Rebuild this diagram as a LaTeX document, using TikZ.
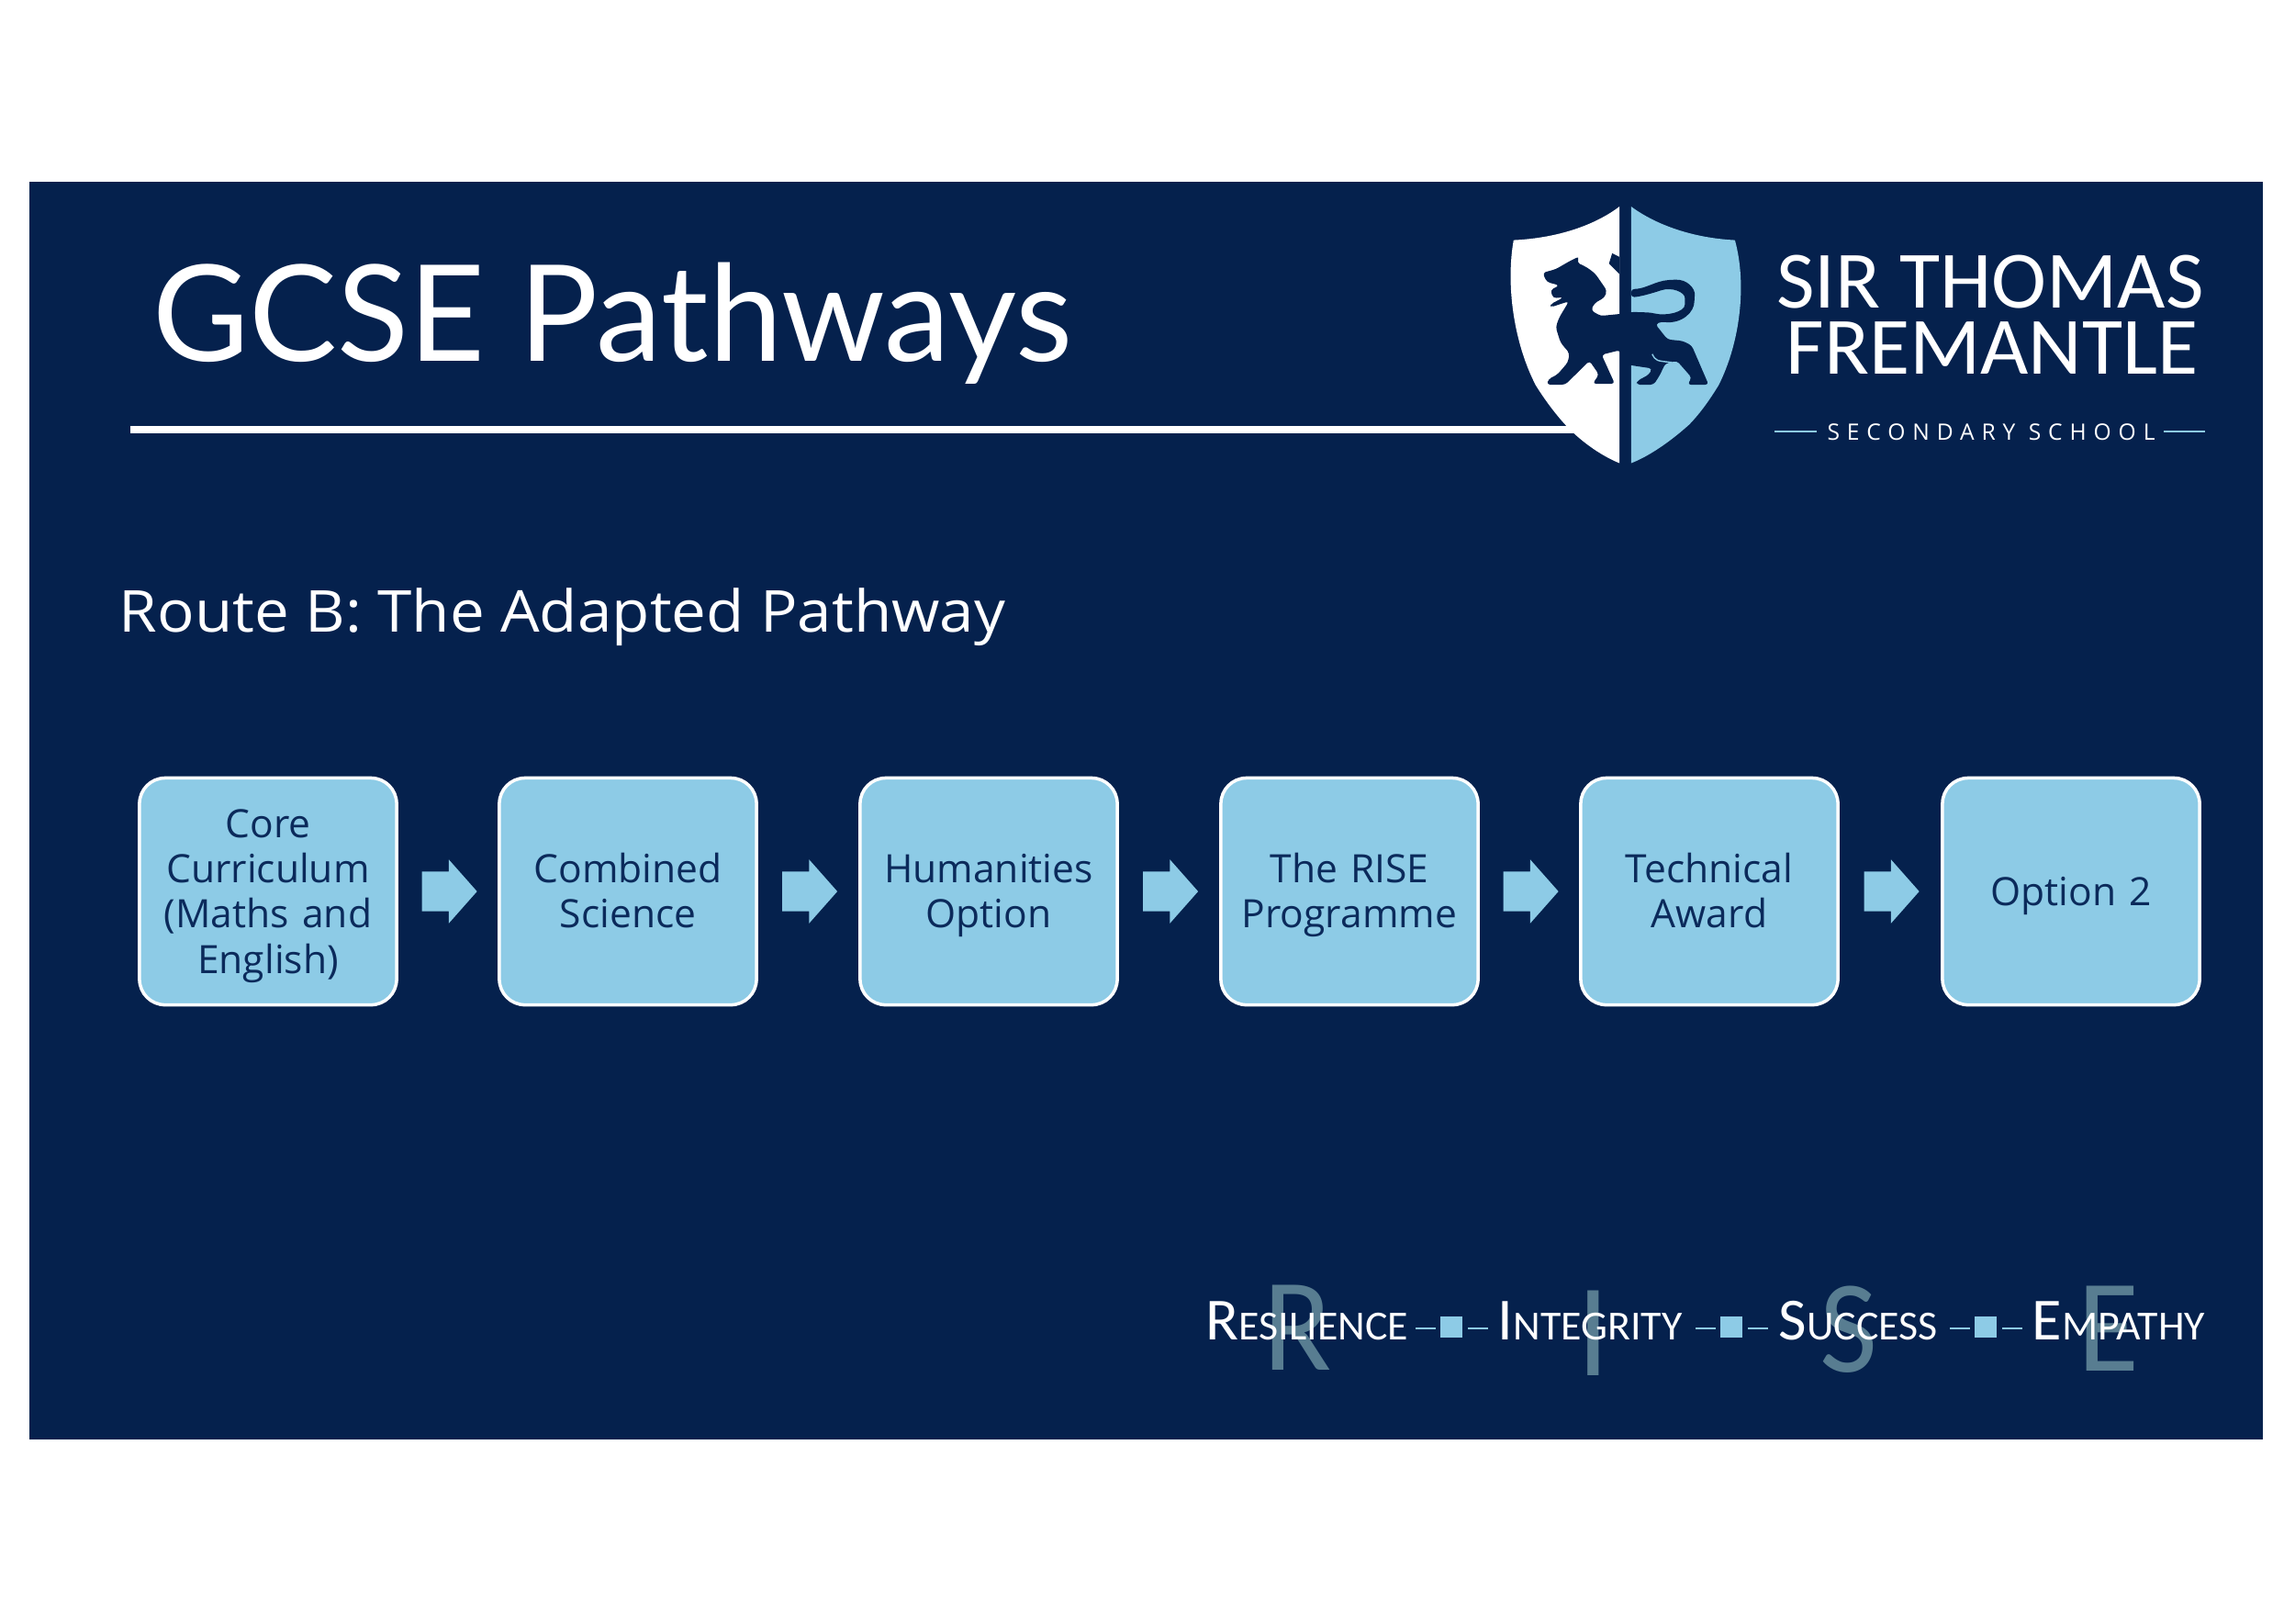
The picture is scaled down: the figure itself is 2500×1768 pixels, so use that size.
\documentclass[tikz,border=0pt]{standalone}
\usepackage{xcolor}
\usepackage{fontspec}
\usetikzlibrary{shapes.arrows,calc}
\setmainfont{Open Sans}
\newfontfamily\headfont[FakeStretch=0.985]{Lato}
\newfontfamily\routefont[FakeStretch=1.07]{Open Sans}
\newfontfamily\crestfont[FakeStretch=1.02]{Carlito}
\newfontfamily\risefont[FakeStretch=0.95]{Carlito}
\newfontfamily\subfont[LetterSpace=32]{Open Sans}
\definecolor{bgNavy}{HTML}{05214D}
\definecolor{skyLight}{HTML}{8DCBE6}
\definecolor{inkNavy}{HTML}{0B2A5B}
\definecolor{riseGray}{HTML}{587D91}

\begin{document}
\begin{tikzpicture}[x=0.01cm,y=-0.01cm]

            \tikzset{
                stepbox/.style={
                    rectangle,
                    rounded corners=2.8mm,
                    draw=white,
                    fill=skyLight,
                    line width=1pt,
                    minimum width=2.8cm,
                    minimum height=2.47cm,
                    inner sep=0pt,
                    text width=2.6cm,
                    align=center,
                    text=inkNavy,
                    font=\fontsize{12.1}{14}\selectfont,
                    execute at begin node={\rule[-3pt]{0pt}{14.6pt}},
                    execute at end node={\rule[-3pt]{0pt}{3pt}}
                },
                steparrow/.style={
                    single arrow,
                    fill=skyLight,
                    minimum width=0.68cm,
                    minimum height=0.6cm,
                    single arrow head extend=0.13cm,
                    single arrow tip angle=97,
                    inner xsep=0pt,
                    inner ysep=0.21cm,
                    xshift=-0.08cm
                },
                mottotext/.style={text=white, anchor=base west, inner sep=0pt},
                riseletter/.style={text=riseGray, anchor=base, inner sep=0pt,
                    font=\risefont\fontsize{41}{41}\selectfont},
                mottodash/.style={draw=skyLight, line width=0.7pt}
            }

            \newcommand{\StepBox}[3]{%
                \node[stepbox] (#1) at (#2,971) {#3};
            }
            \newcommand{\StepArrow}[2]{%
                \node[steparrow] (#1#2) at ($(#1)!0.5!(#2)$) {};
            }
            \newcommand{\MottoWord}[4]{%
                \node[mottotext] (#1) at (#2,1459) {\crestfont\fontsize{18.5}{18.5}\selectfont #3\fontsize{12.8}{12.8}\selectfont #4};
            }
            \newcommand{\MottoMark}[1]{%
                \draw[mottodash] (#1,1447) -- ++(22,0);
                \fill[skyLight] (#1+27,1434) rectangle ++(24,23);
                \draw[mottodash] (#1+57,1447) -- ++(22,0);
            }

            \useasboundingbox (0,0) rectangle (2500,1768);
            \fill[white] (0,0) rectangle (2500,1768);
            \fill[bgNavy] (32,198) rectangle (2465,1568);

            % heading
            \node[text=white, anchor=base west, inner sep=0pt, font=\headfont\fontsize{41.5}{41.5}\selectfont] (title) at (166,393) {GCSE Pathways};
            \fill[white] (142,464) rectangle (1725,472);
            \node[text=white, anchor=base west, inner sep=0pt, font=\routefont\fontsize{17.9}{17.9}\selectfont] (route) at (129,688) {Route B: The Adapted Pathway};

            % shield
            \begin{scope}[shift={(1600,200)},x=0.00574cm,y=-0.00333cm]
                \fill[white] (286,75) .. controls (240,135) and (170,178) .. (85,185)
                    .. controls (70,330) and (85,520) .. (127,660)
                    .. controls (145,710) and (165,755) .. (183,789)
                    .. controls (210,840) and (250,890) .. (286,915) -- cycle;
                \fill[skyLight] (308,75) .. controls (355,135) and (425,178) .. (505,185)
                    .. controls (528,330) and (515,520) .. (474,660)
                    .. controls (458,705) and (440,750) .. (418,789)
                    .. controls (385,840) and (345,890) .. (308,915) -- cycle;
                \fill[bgNavy, rounded corners=1pt] (210,238) -- (205,258) -- (225,275) -- (240,295)
                    -- (250,320) -- (262,350) -- (258,372) -- (238,392) -- (232,415) -- (250,433)
                    -- (296,425) -- (309,420) -- (345,422)
                    .. controls (375,435) and (410,420) .. (410,385)
                    .. controls (410,355) and (385,338) .. (360,352)
                    .. controls (345,360) and (325,370) .. (308,372) -- (308,345)
                    .. controls (335,345) and (355,318) .. (385,315)
                    .. controls (415,312) and (430,345) .. (428,375)
                    .. controls (428,420) and (405,460) .. (365,452)
                    -- (354,460) -- (377,510) -- (406,515) -- (423,530)
                    -- (455,658) -- (415,658) -- (423,635) -- (395,580) -- (374,588) -- (371,595)
                    -- (363,625) -- (351,658) -- (318,658) -- (320,645) -- (342,625) -- (348,605)
                    -- (309,595) -- (296,590) -- (287,545) -- (252,560) -- (277,655) -- (235,655)
                    -- (247,625) -- (229,580) -- (183,658) -- (148,658) -- (151,640) -- (168,625)
                    -- (188,585) -- (191,555) -- (174,520) -- (165,470) -- (171,440) -- (190,385)
                    -- (155,405) -- (155,395) -- (180,372) -- (160,375) -- (155,348) -- (172,333)
                    -- (148,322) -- (140,292) -- (165,280) -- (190,255) -- cycle;
                \fill[bgNavy] (272,228) -- (266,262) -- (286,296) -- (286,240) -- cycle;
                \draw[skyLight, line width=0.4pt] (348,558) .. controls (355,580) .. (385,585);
            \end{scope}

            % school name
            \node[text=white, anchor=base, inner sep=0pt, font=\crestfont\fontsize{25.2}{25.2}\selectfont] (nameTop) at (2168,335) {SIR THOMAS};
            \node[text=white, anchor=base, inner sep=0pt, font=\crestfont\fontsize{25.2}{25.2}\selectfont] (nameLow) at (2170,407) {FREMANTLE};
            \node[text=white, anchor=base, inner sep=0pt, font=\subfont\fontsize{7}{7}\selectfont] (nameSub) at (2169,479) {SECONDARY SCHOOL};
            \coordinate (dashA) at (1933,470);
            \coordinate (dashB) at (1979,470);
            \coordinate (dashC) at (2357,470);
            \coordinate (dashD) at (2402,470);
            \draw[mottodash] (dashA) -- (dashB);
            \draw[mottodash] (dashC) -- (dashD);

            % steps
            \StepBox{core}{292}{Core\\Curriculum\\(Maths and\\English)}
            \StepBox{science}{684}{Combined\\Science}
            \StepBox{humanities}{1077}{Humanities\\Option}
            \StepBox{rise}{1470}{The RISE\\Programme}
            \StepBox{technical}{1862}{Technical\\Award}
            \StepBox{option}{2256}{Option 2}

            \StepArrow{core}{science}
            \StepArrow{science}{humanities}
            \StepArrow{humanities}{rise}
            \StepArrow{rise}{technical}
            \StepArrow{technical}{option}

            % values
            \node[riseletter] (bigR) at (1414,1492) {R};
            \node[riseletter] (bigI) at (1736,1498) {I};
            \node[riseletter] (bigS) at (2014,1494) {S};
            \node[riseletter] (bigE) at (2297,1493) {E};

            \MottoWord{resilience}{1313}{R}{ESILIENCE}
            \MottoWord{integrity}{1631}{I}{NTEGRITY}
            \MottoWord{success}{1937}{S}{UCCESS}
            \MottoWord{empathy}{2213}{E}{MPATHY}

            \MottoMark{1542}
            \MottoMark{1847}
            \MottoMark{2124}

        \end{tikzpicture}
\end{document}
